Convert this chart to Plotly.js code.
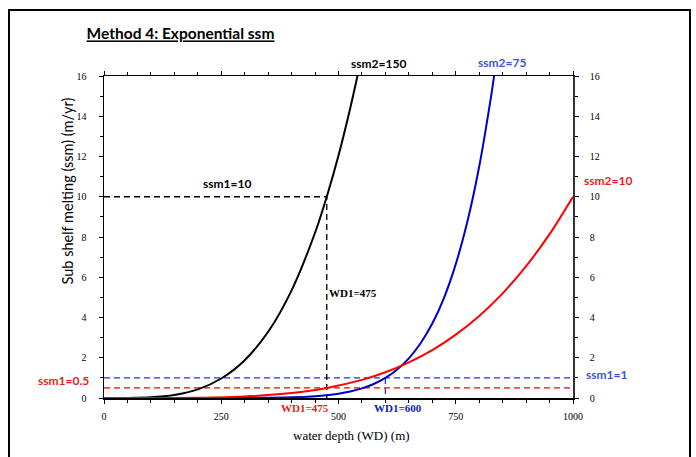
<!DOCTYPE html>
<html>
<head>
<meta charset="utf-8">
<script src="https://cdn.plot.ly/plotly-3.0.1.min.js"></script>
<style>html,body{margin:0;padding:0;background:#fff;}#chart{width:696px;height:457px;}</style>
</head>
<body>
<div id="chart"></div>
<script>
// ---- data (smoothed estimates) ----
const wdBlack  = [0, 50, 100, 150, 200, 250, 300, 350, 400, 450, 475, 500, 525, 541];
const ssmBlack = [0, 0.003, 0.034, 0.15, 0.43, 0.97, 1.88, 3.29, 5.35, 8.21, 10, 12.05, 14.4, 16.06];

const wdBlue  = [0, 100, 200, 300, 400, 450, 475, 500, 525, 550, 575, 600, 625, 650, 675, 700, 725, 750, 775, 800, 825, 833];
const ssmBlue = [0, 0, 0.0001, 0.003, 0.032, 0.087, 0.138, 0.213, 0.322, 0.478, 0.697, 1, 1.414, 1.97, 2.72, 3.7, 4.98, 6.65, 8.78, 11.5, 14.94, 16.2];

const wdRed  = [0, 100, 200, 300, 400, 475, 550, 600, 650, 700, 750, 800, 850, 900, 950, 1000];
const ssmRed = [0, 0.001, 0.016, 0.079, 0.25, 0.5, 0.9, 1.28, 1.77, 2.38, 3.15, 4.08, 5.2, 6.55, 8.14, 10];

// reference (dashed) lines
const blackRefX = [0, 475, 475];
const blackRefY = [10, 10, 0];
const blueRefX  = [0, 1000];
const blueRefY  = [1, 1];
const blueVX    = [600, 600];
const blueVY    = [1, 0];
const redRefX   = [0, 1000];
const redRefY   = [0.5, 0.5];

const xTicks = [0, 250, 500, 750, 1000];
const yTicks = [0, 2, 4, 6, 8, 10, 12, 14, 16];

// ---- styling ----
const BLUE = '#0000cc';
const RED = '#ff0000';
const DASH = '6px,4px';

const traces = [
  {x: blueRefX, y: blueRefY, mode: 'lines', line: {color: '#2233dd', width: 1.3, dash: DASH}},
  {x: blueVX, y: blueVY, mode: 'lines', line: {color: '#2233dd', width: 1.3, dash: DASH}},
  {x: redRefX, y: redRefY, mode: 'lines', line: {color: RED, width: 1.3, dash: DASH}},
  {x: blackRefX, y: blackRefY, mode: 'lines', line: {color: '#000', width: 1.3, dash: DASH}},
  {x: wdBlack, y: ssmBlack, mode: 'lines', line: {color: '#000', width: 2, shape: 'spline', smoothing: 0.8}},
  {x: wdBlue, y: ssmBlue, mode: 'lines', line: {color: BLUE, width: 2, shape: 'spline', smoothing: 0.8}},
  {x: wdRed, y: ssmRed, mode: 'lines', yaxis: 'y2', line: {color: RED, width: 2, shape: 'spline', smoothing: 0.8}}
];

const L = 104, R = 123, T = 76, B = 59;
const W = 696 - L - R, H = 457 - T - B;
const px = v => (v - L) / W;
const py = v => (457 - B - v) / H;

const tickFont = {family: 'Liberation Serif, Times New Roman, serif', size: 10, color: '#000'};
const sans = 'Lato, Calibri, sans-serif';
const serif = 'Liberation Serif, Times New Roman, serif';

function ann(text, x, y, color, family, size, extra) {
  return Object.assign({text: text, x: px(x), y: py(y), xref: 'paper', yref: 'paper',
    showarrow: false, xanchor: 'center', yanchor: 'middle',
    font: {family: family, size: size, color: color}}, extra || {});
}

const layout = {
  width: 696, height: 457,
  margin: {l: L, r: R, t: T, b: B, pad: 0},
  paper_bgcolor: '#fff', plot_bgcolor: '#fff',
  showlegend: false,
  title: {text: '<b><u>Method 4: Exponential ssm</u></b>', x: 180.5 / 696, xanchor: 'center',
    y: 1 - 34 / 457, yanchor: 'middle', font: {family: sans, size: 15.5, color: '#000'}},
  xaxis: {range: [0, 1000], tickvals: xTicks, ticks: 'outside', ticklen: 4, tickwidth: 1,
    tickcolor: '#000', showline: true, linecolor: '#000', linewidth: 1.5, mirror: 'ticks',
    showgrid: false, zeroline: false, tickfont: tickFont, ticklabelstandoff: 4,
    minor: {dtick: 50, ticks: 'outside', ticklen: 3, tickcolor: '#000', showgrid: false}},
  yaxis: {range: [0, 16], tickvals: yTicks, ticks: 'outside', ticklen: 4, tickwidth: 1,
    tickcolor: '#000', showline: true, linecolor: '#000', linewidth: 1.5,
    showgrid: false, zeroline: false, tickfont: tickFont, ticklabelstandoff: 10,
    minor: {dtick: 1, ticks: 'outside', ticklen: 3, tickcolor: '#000', showgrid: false}},
  yaxis2: {range: [0, 16], matches: 'y', overlaying: 'y', side: 'right', tickvals: yTicks,
    ticks: 'outside', ticklen: 4, tickwidth: 1, tickcolor: '#000', showline: true,
    linecolor: '#333', linewidth: 1.8, showgrid: false, zeroline: false, tickfont: tickFont,
    ticklabelstandoff: 9,
    minor: {dtick: 1, ticks: 'outside', ticklen: 3, tickcolor: '#000', showgrid: false}},
  shapes: [
    {type: 'rect', xref: 'paper', yref: 'paper', x0: px(9), x1: px(690), y0: py(470), y1: py(10),
      line: {color: '#000', width: 2}, fillcolor: 'rgba(0,0,0,0)', layer: 'below'}
  ],
  annotations: [
    ann('Sub shelf melting (ssm) (m/yr)', 66.5, 191, '#000', sans, 14.5, {textangle: -90}),
    ann('water depth (WD) (m)', 351, 435, '#000', serif, 13),
    ann('<b>ssm2=150</b>', 378, 64, '#000', sans, 12),
    ann('<b>ssm2=75</b>', 502, 62, '#3b55d6', sans, 12),
    ann('<b>ssm1=10</b>', 227, 183, '#000', sans, 12),
    ann('<b>WD1=475</b>', 353, 293, '#000', serif, 11),
    ann('<b>ssm2=10</b>', 607.5, 180, '#ee1c1c', sans, 12),
    ann('<b>ssm1=1</b>', 607, 374, '#3b55d6', sans, 12),
    ann('<b>ssm1=0.5</b>', 63.5, 380.5, '#ee1c1c', sans, 12),
    ann('<b>WD1=475</b>', 304.5, 407.5, '#ee1c1c', serif, 11),
    ann('<b>WD1=600</b>', 398, 407.5, '#1020b8', serif, 11)
  ]
};

Plotly.newPlot('chart', traces, layout, {staticPlot: true, displayModeBar: false});
</script>
</body>
</html>
